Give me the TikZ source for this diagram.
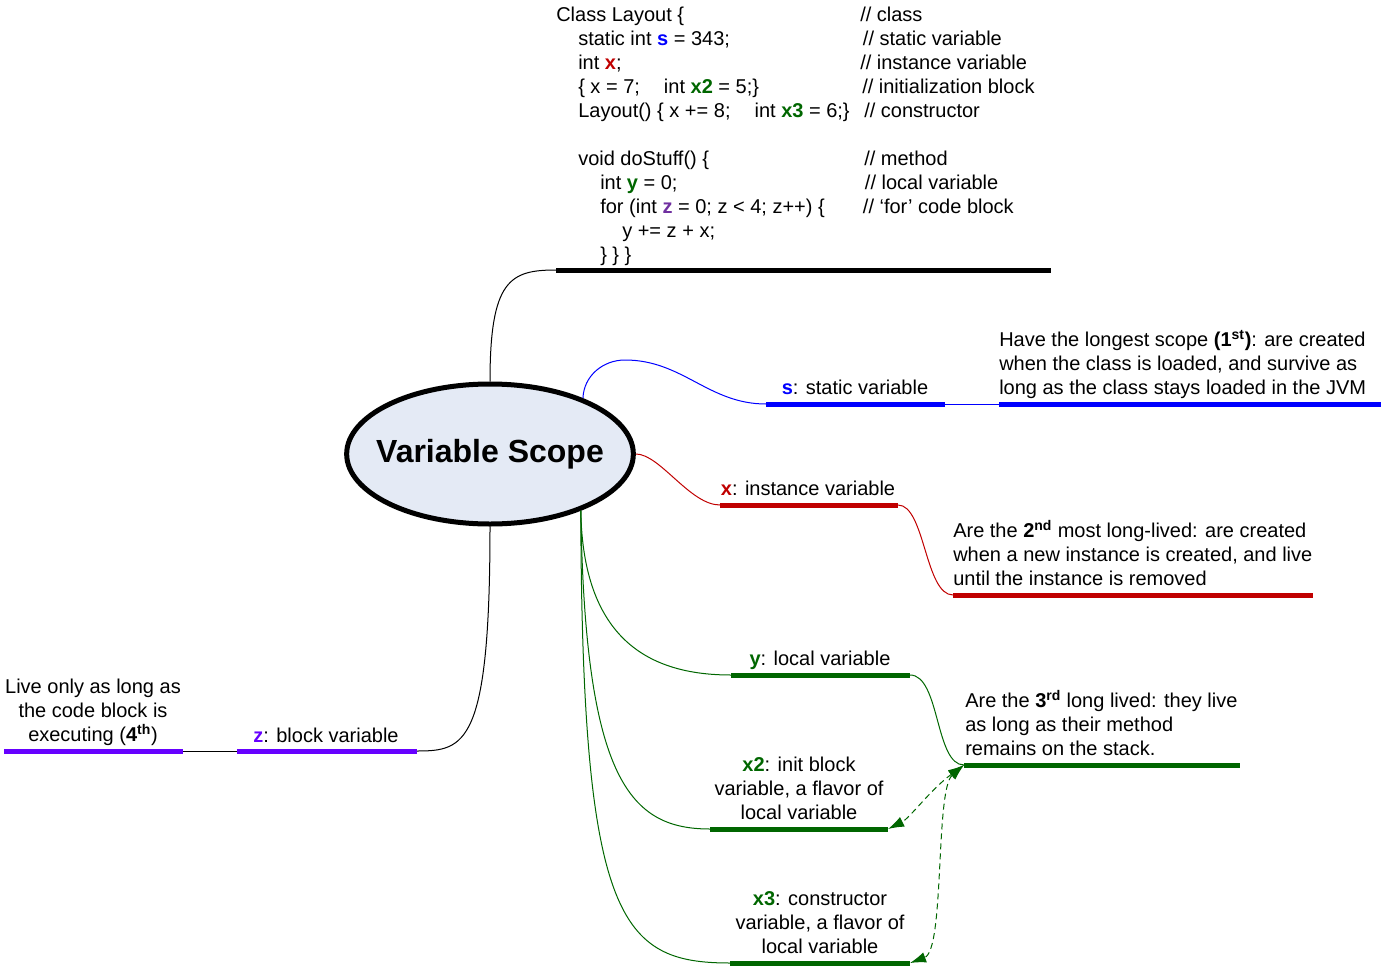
\documentclass[tikz,border=0pt]{standalone}
\usepackage{fontspec}
\setmainfont{Liberation Sans}
\usetikzlibrary{shapes}
\usetikzlibrary{arrows.meta}

\definecolor{sblue}{RGB}{0,0,255}
\definecolor{xred}{RGB}{192,0,0}
\definecolor{ygreen}{RGB}{0,102,0}
\definecolor{zviolet}{RGB}{102,0,255}
\definecolor{zcode}{RGB}{112,48,160}
\definecolor{bubble}{RGB}{228,234,245}
\newcommand{\vname}[2]{\textbf{\color{#1}#2}}

\begin{document}
\begin{tikzpicture}[x=0.75pt,y=-0.75pt]
	\tikzstyle{bar}=[line width=3.75pt]
	\tikzstyle{link}=[line width=0.75pt]
	\tikzstyle{txt}=[font=\fontsize{15}{18}\selectfont, inner sep=0pt]
	\tikzstyle{hub}=[ellipse, draw, line width=3.75pt, fill=bubble, inner sep=0pt, minimum width=215pt, minimum height=105pt, font=\fontsize{24}{28}\selectfont\bfseries]
	\tikzstyle{twoway}=[dash pattern=on 4.5pt off 3pt, >={Latex[length=12pt,width=8pt]}, <->]
	\useasboundingbox (0,0) rectangle (1385,967);

	\node[hub] (scope) at (490,454) {\makebox[140pt]{Variable Scope}};

	% code and comments
	\node[txt, align=left, anchor=north west] (code) at (556,4.7) {\strut Class Layout \{\\
		\hspace{16.5pt}static int \vname{sblue}{s} = 343;\\
		\hspace{16.5pt}int \vname{xred}{x};\\
		\hspace{16.5pt}\{ x = 7;\hspace{18pt}int \vname{ygreen}{x2} = 5;\}\\
		\hspace{16.5pt}Layout() \{ x += 8;\hspace{18pt}int \vname{ygreen}{x3} = 6;\}\\
		\strut\\
		\hspace{16.5pt}void doStuff() \{\\
		\hspace{33pt}int \vname{ygreen}{y} = 0;\\
		\hspace{33pt}for (int \vname{zcode}{z} = 0; z < 4; z++) \{\\
		\hspace{49.5pt}y += z + x;\\
		\hspace{33pt}\} \} \}};
	\node[txt, align=left, anchor=north west] (cmt) at (860,4.7) {\strut// class\\
		\hspace{2pt}// static variable\\
		// instance variable\\
		\hspace{1.5pt}// initialization block\\
		\hspace{3pt}// constructor\\
		\strut\\
		\hspace{3pt}// method\\
		\hspace{3.5pt}// local variable\\
		\hspace{2pt}// `for' code block};

	% bar ends
	\coordinate (codeL) at (556,270);  \coordinate (codeR) at (1051,270);
	\coordinate (sL) at (766,404);     \coordinate (sR) at (945,404);
	\coordinate (sNoteL) at (999,404); \coordinate (sNoteR) at (1381,404);
	\coordinate (xL) at (720,505);     \coordinate (xR) at (898,505);
	\coordinate (xNoteL) at (953,595); \coordinate (xNoteR) at (1313,595);
	\coordinate (yL) at (731,675);     \coordinate (yR) at (910,675);
	\coordinate (yNoteL) at (964,765); \coordinate (yNoteR) at (1240,765);
	\coordinate (xiiL) at (710,829);   \coordinate (xiiR) at (888,829);
	\coordinate (xiiiL) at (730,963);  \coordinate (xiiiR) at (910,963);
	\coordinate (zL) at (237,751);     \coordinate (zR) at (417,751);
	\coordinate (zNoteL) at (4,751);   \coordinate (zNoteR) at (183,751);
	\coordinate (sBend) at (625,360);

	\draw[bar] (codeL) -- (codeR);
	\draw[bar, sblue] (sL) -- (sR);
	\draw[bar, sblue] (sNoteL) -- (sNoteR);
	\draw[bar, xred] (xL) -- (xR);
	\draw[bar, xred] (xNoteL) -- (xNoteR);
	\draw[bar, ygreen] (yL) -- (yR);
	\draw[bar, ygreen] (yNoteL) -- (yNoteR);
	\draw[bar, ygreen] (xiiL) -- (xiiR);
	\draw[bar, ygreen] (xiiiL) -- (xiiiR);
	\draw[bar, zviolet] (zL) -- (zR);
	\draw[bar, zviolet] (zNoteL) -- (zNoteR);

	% labels
	\node[txt, anchor=base] (slbl) at (855,394.5) {\vname{sblue}{s}: static variable};
	\node[txt, anchor=base] (xlbl) at (808,495.5) {\vname{xred}{x}: instance variable};
	\node[txt, anchor=base] (ylbl) at (820,665.5) {\vname{ygreen}{y}: local variable};
	\node[txt, anchor=base] (zlbl) at (326,742) {\vname{zviolet}{z}: block variable};
	\node[txt, align=center, anchor=south] (xiilbl) at (799,826.7) {\vname{ygreen}{x2}: init block\\variable, a flavor of\\local variable\strut};
	\node[txt, align=center, anchor=south] (xiiilbl) at (820,960.7) {\vname{ygreen}{x3}: constructor\\variable, a flavor of\\local variable\strut};

	\node[txt, align=left, anchor=south west] (snote) at (999,401.7) {Have the longest scope \textbf{(1\textsuperscript{st})}: are created\\when the class is loaded, and survive as\\long as the class stays loaded in the JVM\strut};
	\node[txt, align=left, anchor=south west] (xnote) at (953,592.7) {Are the \textbf{2\textsuperscript{nd}} most long-lived: are created\\when a new instance is created, and live\\until the instance is removed\strut};
	\node[txt, align=left, anchor=south west] (ynote) at (965,762.7) {Are the \textbf{3\textsuperscript{rd}} long lived: they live\\as long as their method\\remains on the stack.\strut};
	\node[txt, align=center, anchor=south] (znote) at (93,748.7) {Live only as long as\\the code block is\\executing (\textbf{4\textsuperscript{th}})\strut};

	% connectors
	\draw[link] (scope.north) .. controls (490,280) and (510,270) .. (codeL);
	\draw[link, sblue] (scope.31) to[out=88,in=180] (sBend) to[out=0,in=180] (sL);
	\draw[link, sblue] (sR) -- (sNoteL);
	\draw[link, xred] (scope.east) .. controls (660,454) and (690,505) .. (xL);
	\draw[link, xred] (xR) .. controls (925,505) and (925,595) .. (xNoteL);
	\draw[link, ygreen] (scope.-32) .. controls (583,640) and (650,675) .. (yL);
	\draw[link, ygreen] (scope.-32) .. controls (585,780) and (630,829) .. (xiiL);
	\draw[link, ygreen] (scope.-32) .. controls (582,920) and (620,963) .. (xiiiL);
	\draw[link, ygreen] (yR) .. controls (940,675) and (935,765) .. (yNoteL);
	\draw[link, ygreen, twoway] (yNoteL) .. controls (930,790) and (910,818) .. (xiiR);
	\draw[link, ygreen, twoway] (yNoteL) .. controls (935,790) and (945,950) .. (xiiiR);
	\draw[link] (scope.south) .. controls (490,745) and (465,751) .. (zR);
	\draw[link] (zL) -- (zNoteR);
\end{tikzpicture}
\end{document}
